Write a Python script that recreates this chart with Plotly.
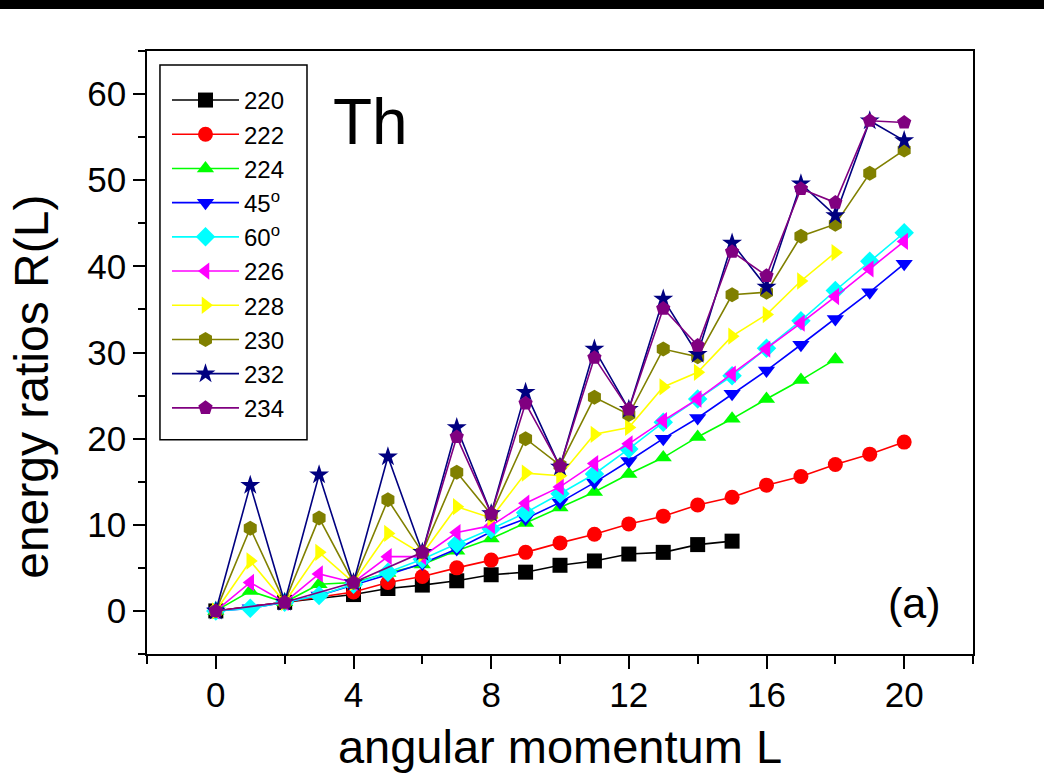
import plotly.graph_objects as go

# ---------------- data ----------------
names = ["220", "222", "224", "45<sup>o</sup>", "60<sup>o</sup>", "226", "228", "230", "232", "234"]
colors = ["#000000", "#FF0000", "#00FF00", "#0000FF", "#00FFFF", "#FF00FF", "#FFFF00", "#808000", "#000080", "#800080"]
symbols = ["square", "circle", "triangle-up", "triangle-down", "diamond", "triangle-left",
           "triangle-right", "hexagon", "star", "pentagon"]

L_220 = [0, 2, 4, 5, 6, 7, 8, 9, 10, 11, 12, 13, 14, 15]
R_220 = [0, 1.0, 1.9, 2.6, 3.0, 3.5, 4.2, 4.5, 5.3, 5.8, 6.6, 6.8, 7.7, 8.1]

L_222 = [0, 2, 4, 5, 6, 7, 8, 9, 10, 11, 12, 13, 14, 15, 16, 17, 18, 19, 20]
R_222 = [0, 1.0, 2.2, 3.3, 4.0, 5.0, 5.9, 6.8, 7.9, 8.9, 10.1, 11.0, 12.3, 13.2, 14.6, 15.6, 17.0, 18.2, 19.6]

L_224 = list(range(0, 19))
R_224 = [0, 2.3, 1.0, 3.1, 3.3, 4.4, 5.4, 7.0, 8.4, 10.2, 12.0, 13.8, 15.9, 17.8, 20.2, 22.3, 24.6, 26.8, 29.2]

L_45 = list(range(0, 21))
R_45 = [0, 0.3, 1.0, 1.8, 3.0, 4.2, 5.5, 7.2, 9.2, 10.7, 12.6, 14.9, 17.4, 20.0, 22.4, 25.2, 27.9, 30.9, 33.9, 37.0, 40.3]

L_60 = list(range(0, 21))
R_60 = [0, 0.3, 1.0, 1.8, 3.1, 4.5, 6.0, 7.8, 9.5, 11.4, 13.6, 15.9, 18.8, 21.9, 24.6, 27.3, 30.5, 33.7, 37.2, 40.6, 43.9]

L_226 = list(range(0, 21))
R_226 = [0, 3.3, 1.0, 4.3, 3.3, 6.3, 6.3, 9.1, 9.9, 12.5, 14.4, 17.1, 19.4, 22.1, 24.6, 27.5, 30.4, 33.4, 36.5, 39.7, 42.9]

L_228 = list(range(0, 19))
R_228 = [0, 5.8, 1.0, 6.8, 3.3, 9.0, 6.6, 12.1, 10.8, 16.0, 15.7, 20.5, 21.3, 26.0, 27.7, 31.9, 34.4, 38.3, 41.6]

L_230 = list(range(0, 21))
R_230 = [0, 9.6, 1.0, 10.8, 3.3, 12.9, 6.8, 16.1, 11.2, 20.0, 16.9, 24.8, 22.8, 30.4, 29.5, 36.7, 37.0, 43.5, 44.9, 50.8, 53.5]

L_232 = list(range(0, 21))
R_232 = [0, 14.6, 1.0, 15.8, 3.3, 17.9, 6.8, 21.3, 11.3, 25.4, 16.7, 30.4, 23.4, 36.2, 29.8, 42.7, 37.6, 49.6, 45.9, 56.9, 54.6]

L_234 = [0, 2, 4, 6, 7, 8, 9, 10, 11, 12, 13, 14, 15, 16, 17, 18, 19, 20]
R_234 = [0, 1.0, 3.3, 6.8, 20.2, 11.3, 24.1, 16.8, 29.4, 23.4, 35.1, 30.8, 41.7, 38.9, 49.0, 47.4, 56.9, 56.7]

series_L = [L_220, L_222, L_224, L_45, L_60, L_226, L_228, L_230, L_232, L_234]
series_R = [R_220, R_222, R_224, R_45, R_60, R_226, R_228, R_230, R_232, R_234]

x_ticks = [0, 4, 8, 12, 16, 20]
y_ticks = [0, 10, 20, 30, 40, 50, 60]

FONT = "Liberation Sans, Arial, Helvetica, sans-serif"

fig = go.Figure()
for i in range(len(names)):
    fig.add_trace(go.Scatter(
        x=series_L[i], y=series_R[i], name=names[i], mode="lines+markers",
        line=dict(color=colors[i], width=1.6),
        marker=dict(symbol=symbols[i], color=colors[i], size=15,
                    line=dict(width=0)),
        legendgroup="g%d" % i,
    ))

axis_common = dict(showgrid=False, zeroline=False, linecolor="black", linewidth=1.5,
                   tickcolor="black", tickwidth=1.5)
mirror_common = dict(showgrid=False, zeroline=False, tickcolor="black", tickwidth=1.5)

fig.update_layout(
    width=1044, height=777,
    margin=dict(l=147, r=71, t=51, b=122.5, autoexpand=False),
    paper_bgcolor="white", plot_bgcolor="white",
    font=dict(family=FONT, color="black"),
    showlegend=True,
    legend=dict(x=0.0242, y=0.9553, xanchor="left", yanchor="top",
                bgcolor="rgba(0,0,0,0)", borderwidth=0,
                font=dict(size=24, family=FONT), tracegroupgap=0, itemwidth=67),
    xaxis=dict(range=[-2, 22], tickvals=x_ticks, ticks="outside", ticklen=13,
               showline=True, mirror=True, automargin=False,
               minor=dict(dtick=2, tick0=0, ticks="outside", ticklen=8, tickwidth=1.5, tickcolor="black"),
               tickfont=dict(size=35, family=FONT),
               ticklabelstandoff=-4,
               title=dict(text="angular momentum L", font=dict(size=47, family=FONT), standoff=17),
               **axis_common),
    yaxis=dict(range=[-5, 65], tickvals=y_ticks, ticks="outside", ticklen=12,
               showline=True, mirror=True, automargin=False,
               minor=dict(dtick=5, tick0=0, ticks="outside", ticklen=7, tickwidth=1.5, tickcolor="black"),
               tickfont=dict(size=35, family=FONT),
               ticklabelstandoff=0,
               **axis_common),
    xaxis2=dict(overlaying="x", side="top", anchor="y", matches="x", range=[-2, 22],
                tickvals=x_ticks, ticks="inside", ticklen=13, showticklabels=False,
                showline=False, automargin=False,
                minor=dict(dtick=2, tick0=0, ticks="inside", ticklen=8, tickwidth=1.5, tickcolor="black"),
                **mirror_common),
    yaxis2=dict(overlaying="y", side="right", anchor="x", matches="y", range=[-5, 65],
                tickvals=y_ticks, ticks="inside", ticklen=12, showticklabels=False,
                showline=False, automargin=False,
                minor=dict(dtick=5, tick0=0, ticks="inside", ticklen=7, tickwidth=1.5, tickcolor="black"),
                **mirror_common),
)

# legend frame
fig.add_shape(type="rect", xref="paper", yref="paper",
              x0=0.0157, x1=0.1937, y0=0.3554, y1=0.9768,
              line=dict(color="black", width=1.5), fillcolor="rgba(0,0,0,0)", layer="above")
# black band at the top of the picture
fig.add_shape(type="rect", xref="paper", yref="paper",
              x0=-0.2, x1=1.1, y0=1.0696, y1=1.1,
              line=dict(width=0), fillcolor="black")

# y-axis title (placed as in the reference, slightly below the axis centre)
fig.add_annotation(text="energy ratios R(L)", xref="paper", yref="paper", x=-0.1392, y=0.4432,
                   xanchor="center", yanchor="middle", textangle=-90, showarrow=False,
                   font=dict(size=48, family=FONT, color="black"))
fig.add_annotation(text="Th", xref="paper", yref="paper", x=0.271, y=0.883,
                   xanchor="center", yanchor="middle",
                   showarrow=False, font=dict(size=64, family=FONT, color="black"))
fig.add_annotation(text="(a)", xref="paper", yref="paper", x=0.9286, y=0.0845,
                   xanchor="center", yanchor="middle",
                   showarrow=False, font=dict(size=43, family=FONT, color="black"))

fig.write_html("out.html", config={"displayModeBar": False},
               post_script="document.body.style.margin='0';")
